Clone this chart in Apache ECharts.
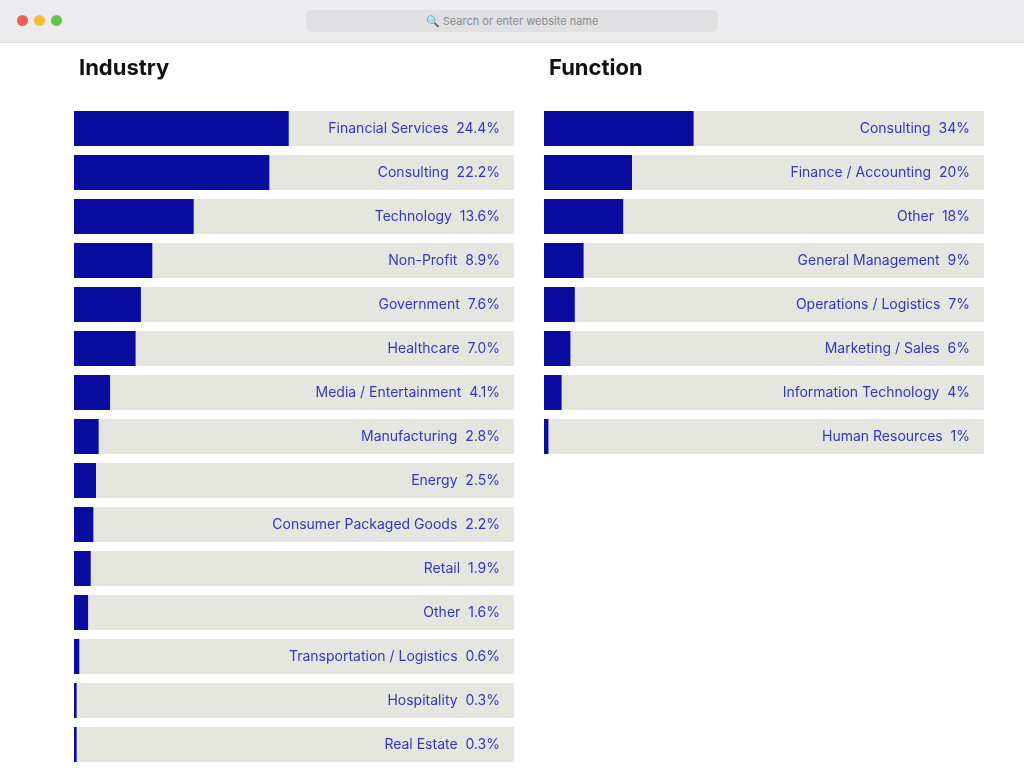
<!DOCTYPE html>
<html><head><meta charset="utf-8">
<script src="https://cdn.jsdelivr.net/npm/echarts@6/dist/echarts.min.js"></script>
<style>
body{margin:0;background:#fff;font-family:Inter,"Noto Sans",sans-serif}
#bar{position:absolute;left:0;top:0;width:1024px;height:42px;background:#ececee;border-bottom:1px solid #dcdcdc;z-index:2}
.dot{position:absolute;top:15px;width:11px;height:11px;border-radius:50%}
#url{position:absolute;left:306px;top:10px;width:412px;height:22px;background:#e0e0e3;border-radius:6px;color:#8a8a8e;font-size:11px;line-height:22px;text-align:center}
#chart{position:absolute;left:0;top:0;width:1024px;height:778px}
</style></head><body>
<div id="chart"></div>
<div id="bar">
<div class="dot" style="left:17px;background:#ee5f58"></div>
<div class="dot" style="left:34px;background:#f6bd3b"></div>
<div class="dot" style="left:51px;background:#5fc84a"></div>
<div id="url">&#128269; Search or enter website name</div>
</div>
<script>
const industryNames=["Financial Services","Consulting","Technology","Non-Profit","Government","Healthcare","Media / Entertainment","Manufacturing","Energy","Consumer Packaged Goods","Retail","Other","Transportation / Logistics","Hospitality","Real Estate"];
const industryValues=[24.4,22.2,13.6,8.9,7.6,7.0,4.1,2.8,2.5,2.2,1.9,1.6,0.6,0.3,0.3];
const functionNames=["Consulting","Finance / Accounting","Other","General Management","Operations / Logistics","Marketing / Sales","Information Technology","Human Resources"];
const functionValues=[34,20,18,9,7,6,4,1];
const industryMax=50, functionMax=100;

const chart=echarts.init(document.getElementById('chart'));
function series(idx,names,vals,max,dec){
  return [
    {type:'bar',xAxisIndex:idx,yAxisIndex:idx,barWidth:35,data:names.map(()=>max),
     itemStyle:{color:'#e6e6e1'},silent:true,z:1,
     label:{show:true,position:'insideRight',distance:14,color:'#3236c2',fontSize:14,fontFamily:'Inter',
       formatter:p=>names[p.dataIndex]+'  '+(dec?vals[p.dataIndex].toFixed(1):vals[p.dataIndex])+'%'}},
    {type:'bar',xAxisIndex:idx,yAxisIndex:idx,barWidth:35,barGap:'-100%',data:vals,
     itemStyle:{color:'#0a0ca0'},z:2}
  ];
}
chart.setOption({
  animation:false,
  title:[
    {text:'Industry',left:74,top:52,textStyle:{fontSize:22,fontWeight:'bold',color:'#111',fontFamily:'Inter'}},
    {text:'Function',left:544,top:52,textStyle:{fontSize:22,fontWeight:'bold',color:'#111',fontFamily:'Inter'}}
  ],
  grid:[
    {left:74,top:106.5,width:440,height:660},
    {left:544,top:106.5,width:440,height:352}
  ],
  xAxis:[
    {gridIndex:0,type:'value',min:0,max:industryMax,show:false},
    {gridIndex:1,type:'value',min:0,max:functionMax,show:false}
  ],
  yAxis:[
    {gridIndex:0,type:'category',data:industryNames,inverse:true,show:false},
    {gridIndex:1,type:'category',data:functionNames,inverse:true,show:false}
  ],
  series:[...series(0,industryNames,industryValues,industryMax,true),...series(1,functionNames,functionValues,functionMax,false)]
});
</script></body></html>
